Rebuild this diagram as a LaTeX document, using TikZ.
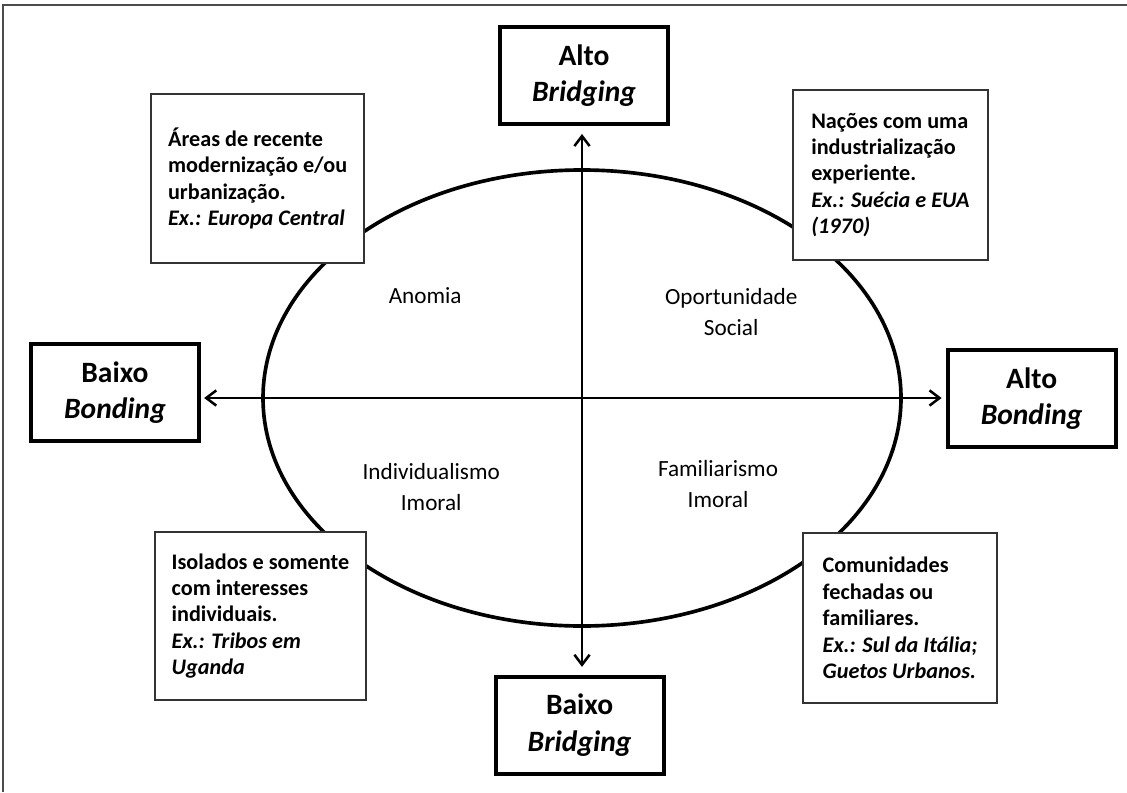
\documentclass[tikz,border=0pt]{standalone}
\usepackage{fontspec}
\setmainfont{Carlito}
\usetikzlibrary{shapes.geometric,arrows.meta}

\begin{document}
\begin{tikzpicture}[
    axisbox/.style={draw, line width=2.8pt, fill=white, minimum width=4.2cm, minimum height=2.42cm, align=center, font=\fontsize{21}{26}\selectfont\bfseries},
    notebox/.style={draw=black!80, line width=1.2pt, fill=white, align=left, font=\fontsize{15.8}{18.8}\selectfont\bfseries},
    quadlabel/.style={align=center, font=\fontsize{16.5}{22}\selectfont},
    axisarrow/.style={{Straight Barb[length=2.5mm,width=3.8mm]}-{Straight Barb[length=2.5mm,width=3.8mm]}, line width=1.8pt}
]
    \useasboundingbox (0,0) rectangle (28.175,-19.8);

    % Outer frame (only top and left edges show)
    \draw[black!70, line width=1.4pt] (0.075,-19.8) -- (0.075,-0.125) -- (28.175,-0.125);

    % Ellipse
    \node[draw, ellipse, line width=2.6pt, minimum width=15.95cm, minimum height=11.4cm, inner sep=0pt] (ell) at (14.55,-9.95) {};

    % Axis boxes
    \node[axisbox] (altoBridging) at (14.6,-1.89) {Alto\\\textit{Bridging}};
    \node[axisbox] (baixoBridging) at (14.49,-18.13) {Baixo\\\textit{Bridging}};
    \node[axisbox] (baixoBonding) at (2.875,-9.81) {Baixo\\\textit{Bonding}};
    \node[axisbox] (altoBonding) at (25.79,-9.97) {Alto\\\textit{Bonding}};

    % Axes
    \draw[axisarrow, shorten <=0.2cm, shorten >=0.2cm] (altoBridging.south -| ell.center) -- (baixoBridging.north -| ell.center);
    \draw[axisarrow, shorten <=0.08cm, shorten >=0.1cm] (baixoBonding.east |- ell.center) -- (altoBonding.west |- ell.center);

    % Quadrant labels
    \node[quadlabel] (anomia) at (10.63,-7.38) {Anomia};
    \node[quadlabel] (oportunidade) at (18.28,-7.79) {Oportunidade\\Social};
    \node[quadlabel] (individualismo) at (10.78,-12.18) {Individualismo\\Imoral};
    \node[quadlabel] (familiarismo) at (17.95,-12.1) {Familiarismo\\Imoral};

    % Note boxes
    \node[notebox, minimum width=5.33cm, minimum height=4.23cm] (areas) at (6.44,-4.46) {%
        Áreas de recente\\modernização e/ou\\urbanização.\\\textit{Ex.: Europa Central}};
    \node[notebox, minimum width=4.88cm, minimum height=4.25cm] (nacoes) at (22.26,-4.375) {%
        Nações com uma\\industrialização\\experiente.\\\textit{Ex.: Suécia e EUA}\\\textit{(1970)}};
    \node[notebox, minimum width=5.28cm, minimum height=4.2cm] (isolados) at (6.51,-15.4) {%
        Isolados e somente\\com interesses\\individuais.\\\textit{Ex.: Tribos em}\\\textit{Uganda}};
    \node[notebox, minimum width=4.85cm, minimum height=4.25cm] (comunidades) at (22.5,-15.45) {%
        Comunidades\\fechadas ou\\familiares.\\\textit{Ex.: Sul da Itália;}\\\textit{Guetos Urbanos.}};

\end{tikzpicture}
\end{document}
